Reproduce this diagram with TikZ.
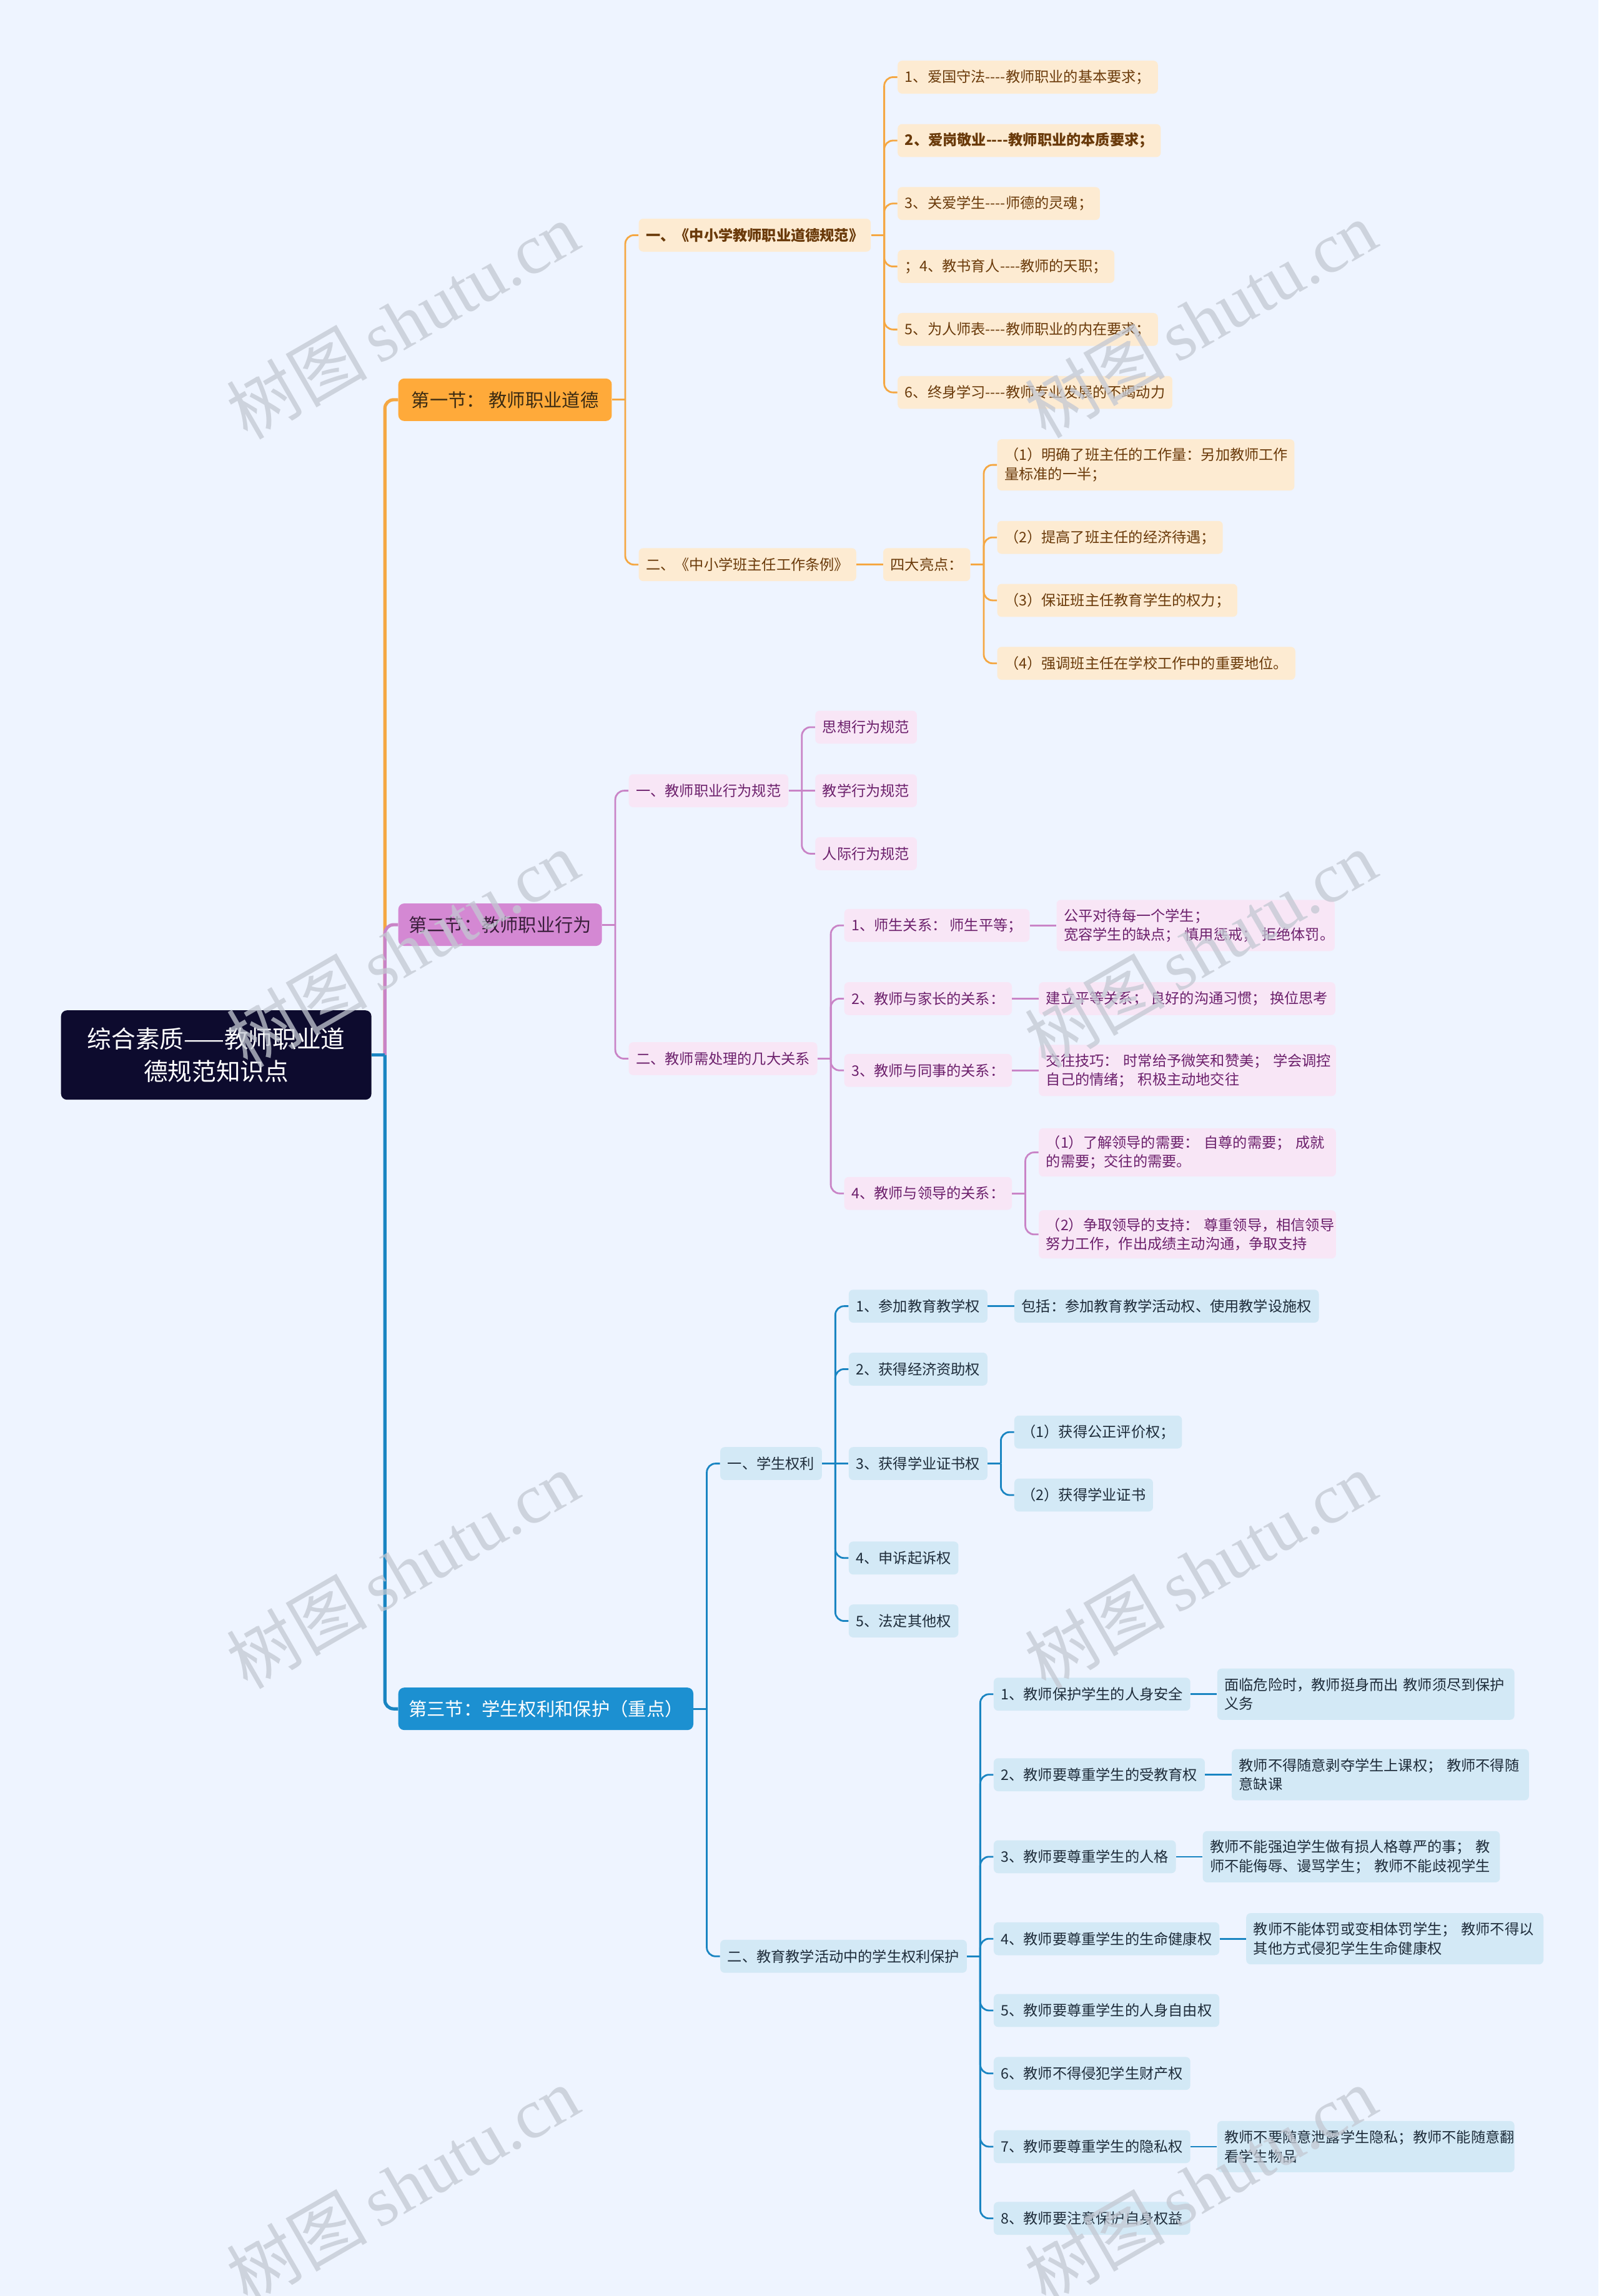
\documentclass[tikz,border=0pt]{standalone}
\usepackage{fontspec}
\setmainfont{Noto Sans CJK SC}
\newfontfamily\wmfont{Liberation Serif}
\usetikzlibrary{positioning}

\definecolor{bgc}{HTML}{EEF4FF}
\definecolor{rootc}{HTML}{0D0B2E}
\definecolor{oraD}{HTML}{F5A742}
\definecolor{oraS}{HTML}{FFAA3A}
\definecolor{oraL}{HTML}{FDEBD2}
\definecolor{oraT}{HTML}{6A3A0A}
\definecolor{oraST}{HTML}{3B2B12}
\definecolor{pnkD}{HTML}{C984C7}
\definecolor{pnkS}{HTML}{D488D3}
\definecolor{pnkL}{HTML}{F8E6F6}
\definecolor{pnkT}{HTML}{6C206C}
\definecolor{pnkST}{HTML}{3A1E3B}
\definecolor{bluD}{HTML}{1A85C2}
\definecolor{bluS}{HTML}{1C90D1}
\definecolor{bluL}{HTML}{D3E9F6}
\definecolor{bluT}{HTML}{1E2C3A}
\definecolor{wmc}{HTML}{C3C8D2}

\begin{document}
\begin{tikzpicture}[
  x=1pt, y=1pt, node distance=18pt,
  box/.style={rounded corners=3pt, anchor=west, inner xsep=5pt, inner ysep=0pt,
    minimum height=22.5pt, font=\fontsize{9.9}{13}\selectfont},
  wide/.style={text width=193pt, align=left, minimum height=35pt},
  secbox/.style={rounded corners=4pt, anchor=west, inner xsep=7pt, inner ysep=0pt,
    minimum height=29pt, font=\fontsize{12.5}{15}\selectfont},
  oleaf/.style={box, fill=oraL, text=oraT},
  pleaf/.style={box, fill=pnkL, text=pnkT},
  bleaf/.style={box, fill=bluL, text=bluT},
  lo/.style={draw=oraD, line width=1.2pt, rounded corners=6pt},
  lp/.style={draw=pnkD, line width=1.2pt, rounded corners=6pt},
  lb/.style={draw=bluD, line width=1.2pt, rounded corners=6pt},
  wm/.style={text=wmc, opacity=.75, rotate=30, font=\fontsize{48}{48}\selectfont}
]
\useasboundingbox (0,0) rectangle (1092,-1568);
\fill[bgc] (0,0) rectangle (1092,-1568);

% root and the three sections
\node[rounded corners=4pt, fill=rootc, text=white, anchor=west, minimum width=212pt,
  minimum height=61pt, text width=200pt, align=center, font=\fontsize{16.5}{22}\selectfont]
  (root) at (41.5,-720.5) {综合素质——教师职业道\\德规范知识点};
\node[secbox, fill=oraS, text=oraST, inner xsep=9pt, right=of root, yshift=447.5pt] (sec1) {第一节：~教师职业道德};
\node[secbox, fill=pnkS, text=pnkST, right=of root, yshift=89pt] (sec2) {第二节：教师职业行为};
\node[secbox, fill=bluS, text=white, right=of root, yshift=-446.5pt] (sec3) {第三节：学生权利和保护（重点）};

% section 1
\node[oleaf, right=of sec1, yshift=112.4pt] (s1a) {\bfseries 一、《中小学教师职业道德规范》};
\node[oleaf, right=of sec1, yshift=-112.6pt] (s1b) {二、《中小学班主任工作条例》};
\node[oleaf, right=of s1a, yshift=107.9pt] (a1) {1、爱国守法-{}-{}-{}-教师职业的基本要求；};
\node[oleaf, right=of s1a, yshift=64.6pt] (a2) {\bfseries 2、爱岗敬业-{}-{}-{}-教师职业的本质要求；};
\node[oleaf, right=of s1a, yshift=21.6pt] (a3) {3、关爱学生-{}-{}-{}-师德的灵魂；};
\node[oleaf, right=of s1a, yshift=-21.4pt] (a4) {；4、教书育人-{}-{}-{}-教师的天职；};
\node[oleaf, right=of s1a, yshift=-64.4pt] (a5) {5、为人师表-{}-{}-{}-教师职业的内在要求；};
\node[oleaf, right=of s1a, yshift=-107.4pt] (a6) {6、终身学习-{}-{}-{}-教师专业发展的不竭动力};
\node[oleaf, right=of s1b] (hl) {四大亮点：};
\node[oleaf, wide, right=of hl, yshift=68.1pt] (h1) {（1）明确了班主任的工作量：另加教师工作\\量标准的一半；};
\node[oleaf, right=of hl, yshift=18.6pt] (h2) {（2）提高了班主任的经济待遇；};
\node[oleaf, right=of hl, yshift=-24.4pt] (h3) {（3）保证班主任教育学生的权力；};
\node[oleaf, right=of hl, yshift=-67.4pt] (h4) {（4）强调班主任在学校工作中的重要地位。};

% section 2
\node[pleaf, right=of sec2, yshift=91.5pt] (s2a) {一、教师职业行为规范};
\node[pleaf, right=of sec2, yshift=-91.5pt] (s2b) {二、教师需处理的几大关系};
\node[pleaf, right=of s2a, yshift=43.4pt] (b1) {思想行为规范};
\node[pleaf, right=of s2a] (b2) {教学行为规范};
\node[pleaf, right=of s2a, yshift=-43pt] (b3) {人际行为规范};
\node[pleaf, right=of s2b, yshift=91pt] (r1) {1、师生关系：~师生平等；};
\node[pleaf, right=of s2b, yshift=41pt] (r2) {2、教师与家长的关系：};
\node[pleaf, right=of s2b, yshift=-8pt] (r3) {3、教师与同事的关系：};
\node[pleaf, right=of s2b, yshift=-92pt] (r4) {4、教师与领导的关系：};
\node[pleaf, wide, text width=180pt, right=of r1] (r1x) {公平对待每一个学生；\\宽容学生的缺点；~慎用惩戒；~拒绝体罚。};
\node[pleaf, right=of r2] (r2x) {建立平等关系；~良好的沟通习惯；~换位思考};
\node[pleaf, wide, right=of r3] (r3x) {交往技巧：~时常给予微笑和赞美；~学会调控\\自己的情绪；~积极主动地交往};
\node[pleaf, wide, minimum height=33pt, right=of r4, yshift=28pt] (r4a) {（1）了解领导的需要：~自尊的需要；~成就\\的需要；交往的需要。};
\node[pleaf, wide, minimum height=33pt, right=of r4, yshift=-28pt] (r4b) {（2）争取领导的支持：~尊重领导，相信领导\\努力工作，作出成绩主动沟通，争取支持};

% section 3
\node[bleaf, right=of sec3, yshift=167.5pt] (s3a) {一、学生权利};
\node[bleaf, right=of sec3, yshift=-169pt] (s3b) {二、教育教学活动中的学生权利保护};
\node[bleaf, right=of s3a, yshift=107.5pt] (c1) {1、参加教育教学权};
\node[bleaf, right=of s3a, yshift=64.5pt] (c2) {2、获得经济资助权};
\node[bleaf, right=of s3a] (c3) {3、获得学业证书权};
\node[bleaf, right=of s3a, yshift=-64.5pt] (c4) {4、申诉起诉权};
\node[bleaf, right=of s3a, yshift=-107.5pt] (c5) {5、法定其他权};
\node[bleaf, right=of c1] (c1x) {包括：参加教育教学活动权、使用教学设施权};
\node[bleaf, right=of c3, yshift=21.5pt] (c3a) {（1）获得公正评价权；};
\node[bleaf, right=of c3, yshift=-21.5pt] (c3b) {（2）获得学业证书};
\node[bleaf, right=of s3b, yshift=179pt] (d1) {1、教师保护学生的人身安全};
\node[bleaf, right=of s3b, yshift=124pt] (d2) {2、教师要尊重学生的受教育权};
\node[bleaf, right=of s3b, yshift=68pt] (d3) {3、教师要尊重学生的人格};
\node[bleaf, right=of s3b, yshift=12pt] (d4) {4、教师要尊重学生的生命健康权};
\node[bleaf, right=of s3b, yshift=-37pt] (d5) {5、教师要尊重学生的人身自由权};
\node[bleaf, right=of s3b, yshift=-80pt] (d6) {6、教师不得侵犯学生财产权};
\node[bleaf, right=of s3b, yshift=-130pt] (d7) {7、教师要尊重学生的隐私权};
\node[bleaf, right=of s3b, yshift=-179pt] (d8) {8、教师要注意保护自身权益};
\node[bleaf, wide, right=of d1] (d1x) {面临危险时，教师挺身而出~教师须尽到保护\\义务};
\node[bleaf, wide, right=of d2] (d2x) {教师不得随意剥夺学生上课权；~教师不得随\\意缺课};
\node[bleaf, wide, right=of d3] (d3x) {教师不能强迫学生做有损人格尊严的事；~教\\师不能侮辱、谩骂学生；~教师不能歧视学生};
\node[bleaf, wide, right=of d4] (d4x) {教师不能体罚或变相体罚学生；~教师不得以\\其他方式侵犯学生生命健康权};
\node[bleaf, wide, right=of d7] (d7x) {教师不要随意泄露学生隐私；教师不能随意翻\\看学生物品};

% root links
\coordinate (rt) at ([xshift=9pt]root.east);
\draw[lo, line width=2.2pt] (rt) |- (sec1.west);
\draw[lp, line width=2.2pt] (rt) |- (sec2.west);
\draw[lb, line width=2.2pt] (rt) |- (sec3.west);
\draw[lb, line width=2.2pt] (root.east) -- (rt);

% orange links
\draw[lo] (sec1.east) -- ++(9,0) coordinate (sec1-t);
\foreach \c in {s1a,s1b} \draw[lo] (sec1-t) |- (\c.west);
\draw[lo] (s1a.east) -- ++(9,0) coordinate (s1a-t);
\foreach \c in {a1,a2,a3,a4,a5,a6} \draw[lo] (s1a-t) |- (\c.west);
\draw[lo] (s1b.east) -- (hl.west);
\draw[lo] (hl.east) -- ++(9,0) coordinate (hl-t);
\foreach \c in {h1,h2,h3,h4} \draw[lo] (hl-t) |- (\c.west);

% pink links
\draw[lp] (sec2.east) -- ++(9,0) coordinate (sec2-t);
\foreach \c in {s2a,s2b} \draw[lp] (sec2-t) |- (\c.west);
\draw[lp] (s2a.east) -- (b2.west);
\draw[lp] ([xshift=9pt]s2a.east) |- (b1.west);
\draw[lp] ([xshift=9pt]s2a.east) |- (b3.west);
\draw[lp] (s2b.east) -- ++(9,0) coordinate (s2b-t);
\foreach \c in {r1,r2,r3,r4} \draw[lp] (s2b-t) |- (\c.west);
\draw[lp] (r1.east) -- (r1x.west);
\draw[lp] (r2.east) -- (r2x.west);
\draw[lp] (r3.east) -- (r3x.west);
\draw[lp] (r4.east) -- ++(9,0) coordinate (r4-t);
\foreach \c in {r4a,r4b} \draw[lp] (r4-t) |- (\c.west);

% blue links
\draw[lb] (sec3.east) -- ++(9,0) coordinate (sec3-t);
\foreach \c in {s3a,s3b} \draw[lb] (sec3-t) |- (\c.west);
\draw[lb] (s3a.east) -- (c3.west);
\foreach \c in {c1,c2,c4,c5} \draw[lb] ([xshift=9pt]s3a.east) |- (\c.west);
\draw[lb] (c1.east) -- (c1x.west);
\draw[lb] (c3.east) -- ++(9,0) coordinate (c3-t);
\foreach \c in {c3a,c3b} \draw[lb] (c3-t) |- (\c.west);
\draw[lb] (s3b.east) -- ++(9,0) coordinate (s3b-t);
\foreach \c in {d1,d2,d3,d4,d5,d6,d7,d8} \draw[lb] (s3b-t) |- (\c.west);
\foreach \c in {d1,d2,d3,d4,d7} \draw[lb] (\c.east) -- (\c x.west);

% watermark
\foreach \wx/\wy [count=\i] in {275/219, 820/218, 275/648, 820/648, 275/1072, 820/1072, 275/1492, 820/1492}
  \node[wm] (w\i) at (\wx,-\wy) {树图\,{\wmfont shutu.cn}};

\end{tikzpicture}
\end{document}
